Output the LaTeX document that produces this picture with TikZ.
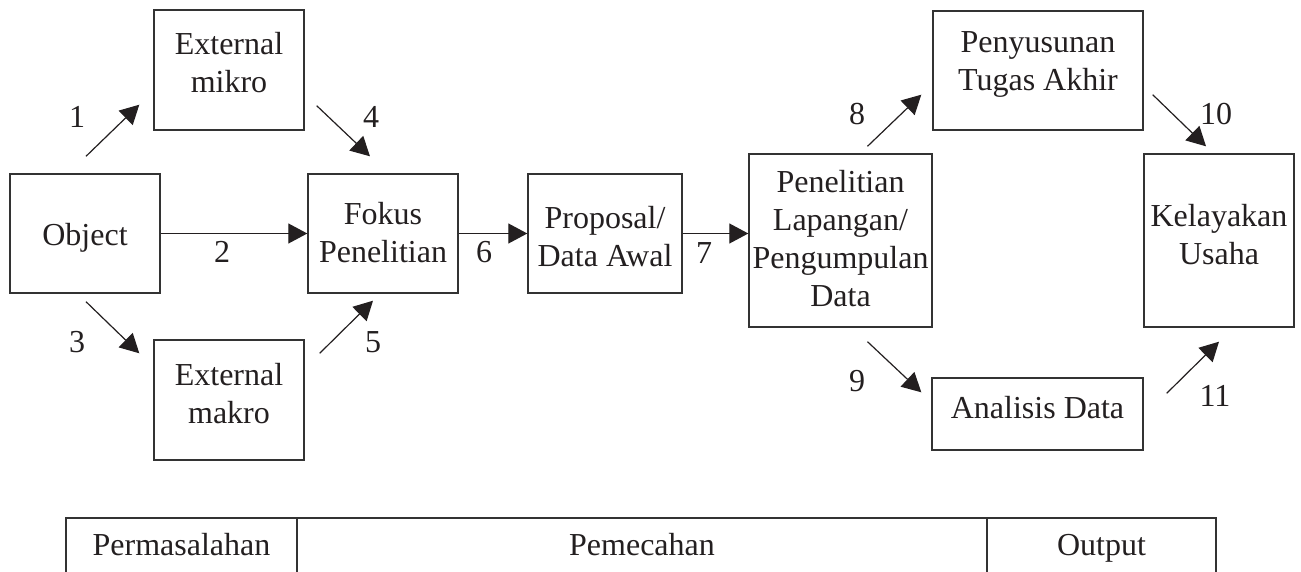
\documentclass[tikz,border=0pt]{standalone}
\usepackage{fontspec}
\setmainfont{Liberation Serif}
\usetikzlibrary{arrows.meta,calc}
\definecolor{ink}{HTML}{231F20}
\definecolor{rule}{HTML}{333333}
% stacked, centred lines whose reference point is the first baseline
\newcommand{\boxlines}[1]{\begin{tabular}[t]{@{}c@{}}#1\end{tabular}}
\begin{document}
\begin{tikzpicture}[x=1pt,y=-1pt,
  every node/.style={text=ink,font=\fontsize{32}{38}\selectfont},
  % #1 width, #2 height, #3 first baseline measured from the top edge
  box/.style n args={3}{draw=rule,line width=1.4pt,inner sep=0pt,
    minimum width=#1,text height=#3,text depth=#2-#3},
  conn/.style={draw=ink,line width=1.2pt,-{Triangle[length=19pt,width=20pt]}},
  num/.style={inner sep=0pt},
  cell/.style={inner sep=0pt,anchor=base}]
\useasboundingbox (0,0) rectangle (1301,572);

% problem side
\node[box={150pt}{119pt}{71pt}] (obj) at (85,233.5) {\boxlines{Object}};
\node[box={150pt}{120pt}{45pt}] (mikro) at (229,70) {\boxlines{External\\mikro}};
\node[box={150pt}{120pt}{45pt}] (makro) at (229,400) {\boxlines{External\\makro}};
\node[box={150pt}{119pt}{51pt}] (fokus) at (383,233.5) {\boxlines{Fokus\\Penelitian}};

% solution side
\node[box={154pt}{119pt}{55pt}] (prop) at (605,233.5) {\boxlines{Proposal/\\Data Awal}};
\node[box={183pt}{173pt}{39pt}] (pen) at (840.5,240.5) {\boxlines{Penelitian\\Lapangan/\\Pengumpulan\\Data}};
\node[box={210pt}{119pt}{42pt}] (tugas) at (1038,70.5) {\boxlines{Penyusunan\\Tugas Akhir}};
\node[box={211pt}{72pt}{40pt}] (ana) at (1037.5,414) {\boxlines{Analisis Data}};

% output
\node[box={150pt}{173pt}{73pt}] (kel) at (1219,240.5) {\boxlines{Kelayakan\\Usaha}};

% connectors
\draw[conn] ($(obj.north)+(1,-17)$) -- ($(mikro.south west)+(-14,-26)$);
\draw[conn] (obj.east) -- (fokus.west);
\draw[conn] ($(obj.south)+(1,8)$) -- ($(makro.north west)+(-14,14)$);
\draw[conn] ($(mikro.south east)+(12,-25)$) -- ($(fokus.north)+(-13,-17)$);
\draw[conn] ($(makro.north east)+(15,14)$) -- ($(fokus.south)+(-10,7)$);
\draw[conn] (fokus.east) -- (prop.west);
\draw[conn] (prop.east) -- (prop.east -| pen.west);
\draw[conn] ($(pen.north)+(27,-7)$) -- ($(tugas.south west)+(-11,-36)$);
\draw[conn] ($(pen.south)+(27,14)$) -- ($(ana.north west)+(-10,15)$);
\draw[conn] ($(tugas.south east)+(9,-36)$) -- ($(kel.north)+(-13,-7)$);
\draw[conn] ($(ana.north east)+(23,16)$) -- ($(kel.south)+(0,14)$);

% connector numbers
\node[num] (n1) at (77,117) {1};
\node[num] (n2) at (222,252) {2};
\node[num] (n3) at (77,342) {3};
\node[num] (n4) at (371,117) {4};
\node[num] (n5) at (373,342) {5};
\node[num] (n6) at (484,252) {6};
\node[num] (n7) at (704,253) {7};
\node[num] (n8) at (857,114) {8};
\node[num] (n9) at (857,381) {9};
\node[num] (n10) at (1216,114) {10};
\node[num] (n11) at (1215,396) {11};

% stage table
\draw[rule,line width=1.4pt] (66,572) -- (66,518) -- (1216,518) -- (1216,572);
\draw[rule,line width=1.4pt] (297,518) -- (297,572);
\draw[rule,line width=1.4pt] (987,518) -- (987,572);
\node[cell] (c1) at (181.5,555) {Permasalahan};
\node[cell] (c2) at (642,555) {Pemecahan};
\node[cell] (c3) at (1101.5,555) {Output};
\end{tikzpicture}
\end{document}
